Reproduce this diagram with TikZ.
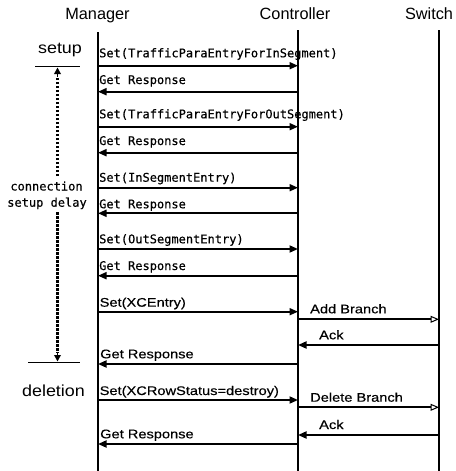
\documentclass[tikz,border=0pt]{standalone}
\usepackage{fontspec}
\setmainfont{Liberation Sans}
\newfontfamily\monolbl[FakeBold=0.4]{DejaVu Sans Mono}
\newfontfamily\widelbl[FakeStretch=1.17,FakeBold=0.3]{Liberation Sans}
\newfontfamily\sidelbl[FakeStretch=1.12]{Liberation Sans}
\usetikzlibrary{arrows.meta}
\tikzset{
  life/.style={line width=1.8pt},
  msg/.style={line width=1.8pt,-{Triangle[length=8.5pt,width=7pt]}},
  msgopen/.style={line width=1.8pt,-{Triangle[open,length=8.5pt,width=7pt,line width=1pt]}},
  head/.style={font=\fontsize{16.3}{18}\selectfont,anchor=base,inner sep=0pt},
  mlbl/.style={font=\monolbl\fontsize{12}{14}\selectfont,anchor=base west,inner sep=0pt},
  wlbl/.style={font=\widelbl\fontsize{12.5}{14}\selectfont,anchor=base west,inner sep=0pt},
  slbl/.style={font=\sidelbl\fontsize{16}{18}\selectfont,anchor=base,inner sep=0pt},
  clbl/.style={font=\monolbl\fontsize{12}{14}\selectfont,anchor=base,inner sep=0pt},
  bar/.style={line width=1.8pt},
  delay/.style={line width=2.2pt,dash pattern=on 2.5pt off 1.5pt},
  delayhead/.style={line width=1.8pt,-{Triangle[length=6.5pt,width=6.5pt]}}
}
\begin{document}
\begin{tikzpicture}[x=1pt,y=-1pt]
\useasboundingbox (0,0) rectangle (455,471);
% headers
\node[head] (hm) at (97.5,19.5) {Manager};
\node[head] (hc) at (295,19.5) {Controller};
\node[head] (hs) at (429,19.5) {Switch};
% lifelines
\coordinate (mtop) at (98,32);   \coordinate (mbot) at (98,471);
\coordinate (ctop) at (298,30);  \coordinate (cbot) at (298,471);
\coordinate (stop) at (439,30);  \coordinate (sbot) at (439,471);
\draw[life] (mtop) -- (mbot);
\draw[life] (ctop) -- (cbot);
\draw[life] (stop) -- (sbot);
% message end points
\foreach \i/\y in {1/65.7,2/91.7,3/126.7,4/152.7,5/187.7,6/213.3,7/249,8/275.7,9/311.7,12/364,13/400,16/444}{
  \coordinate (m\i) at (98,\y);
  \coordinate (c\i) at (298,\y);
}
\foreach \i/\y in {10/319.3,11/345,14/407.3,15/435}{
  \coordinate (c\i) at (298,\y);
  \coordinate (s\i) at (439,\y);
}
% messages
\draw[msg] (m1) -- (c1);
\node[mlbl] (l1) at (99,57.3) {Set(TrafficParaEntryForInSegment)};
\draw[msg] (c2) -- (m2);
\node[mlbl] (l2) at (99,84) {Get Response};
\draw[msg] (m3) -- (c3);
\node[mlbl] (l3) at (99,118.3) {Set(TrafficParaEntryForOutSegment)};
\draw[msg] (c4) -- (m4);
\node[mlbl] (l4) at (99,145) {Get Response};
\draw[msg] (m5) -- (c5);
\node[mlbl] (l5) at (99,181.7) {Set(InSegmentEntry)};
\draw[msg] (c6) -- (m6);
\node[mlbl] (l6) at (99,208.3) {Get Response};
\draw[msg] (m7) -- (c7);
\node[mlbl] (l7) at (99,243.3) {Set(OutSegmentEntry)};
\draw[msg] (c8) -- (m8);
\node[mlbl] (l8) at (99,270) {Get Response};
\draw[msg] (m9) -- (c9);
\node[wlbl] (l9) at (99.5,306.7) {Set(XCEntry)};
\draw[msgopen] (c10) -- (s10);
\node[wlbl] (l10) at (310,313.3) {Add Branch};
\draw[msg] (s11) -- (c11);
\node[wlbl] (l11) at (319,339.3) {Ack};
\draw[msg] (c12) -- (m12);
\node[wlbl] (l12) at (100,358.3) {Get Response};
\draw[msg] (m13) -- (c13);
\node[wlbl] (l13) at (99.5,395) {Set(XCRowStatus=destroy)};
\draw[msgopen] (c14) -- (s14);
\node[wlbl] (l14) at (310,401.7) {Delete Branch};
\draw[msg] (s15) -- (c15);
\node[wlbl] (l15) at (319,429) {Ack};
\draw[msg] (c16) -- (m16);
\node[wlbl] (l16) at (100,438.3) {Get Response};
% left annotations
\node[slbl] (setup) at (60,53) {setup};
\coordinate (b1a) at (35,66.5); \coordinate (b1b) at (80,66.5);
\draw[bar] (b1a) -- (b1b);
\coordinate (b2a) at (28,362.5); \coordinate (b2b) at (80,362.5);
\draw[bar] (b2a) -- (b2b);
\node[clbl] (conn) at (46.5,190.5) {connection};
\node[clbl] (sdel) at (47,206.7) {setup delay};
\coordinate (d1) at (57.5,176); \coordinate (d1t) at (57.5,67.5);
\coordinate (d2) at (57.5,212); \coordinate (d2t) at (57.5,361.5);
\draw[delay] (d1) -- (57.5,76);
\draw[delayhead] (57.5,76.5) -- (d1t);
\draw[delay] (d2) -- (57.5,353);
\draw[delayhead] (57.5,352.5) -- (d2t);
\node[slbl] (del) at (53.5,396.5) {deletion};
\end{tikzpicture}
\end{document}
